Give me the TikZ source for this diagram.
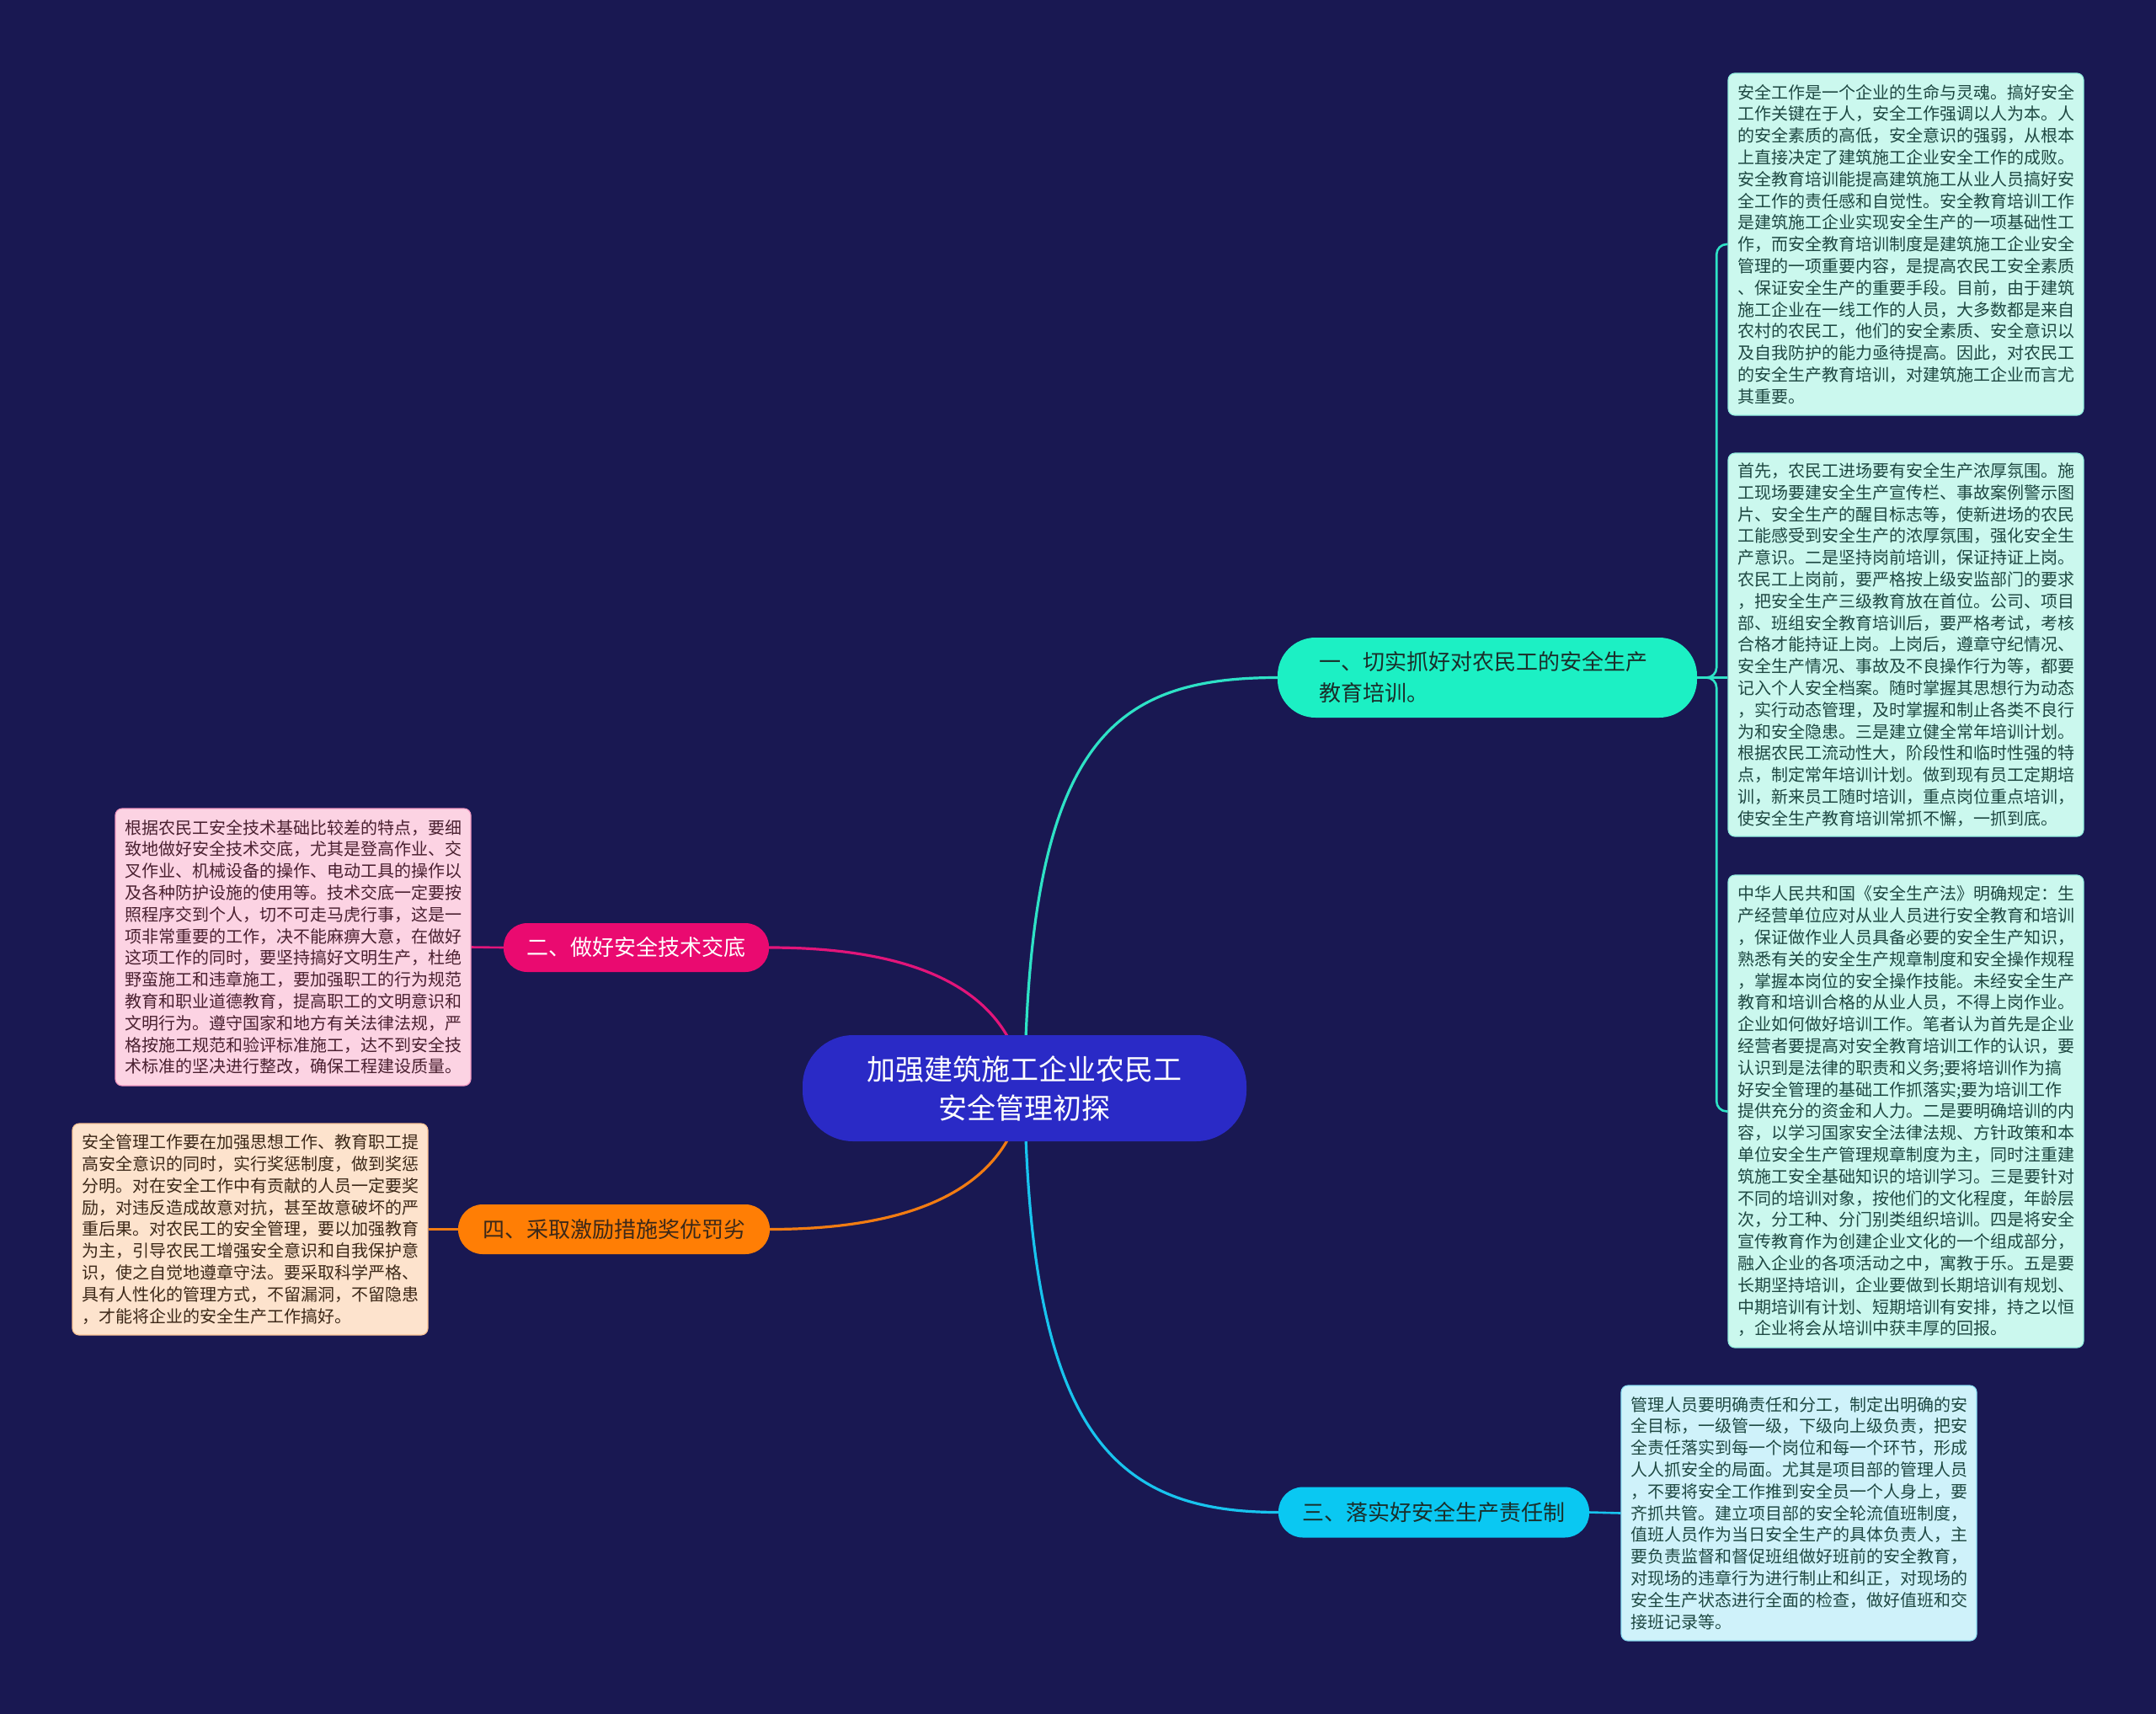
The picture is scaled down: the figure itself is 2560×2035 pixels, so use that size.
\documentclass[tikz,border=0pt]{standalone}
\usepackage{fontspec}
\setmainfont{Noto Sans CJK SC}
\usetikzlibrary{calc}
\setlength\parindent{0pt}
\definecolor{bgc}{HTML}{191852}
\definecolor{rootc}{HTML}{2A2AC6}
\definecolor{aquac}{HTML}{1CF0C4}
\definecolor{aquae}{HTML}{2EE2C6}
\definecolor{magc}{HTML}{EA0A70}
\definecolor{mage}{HTML}{E2157A}
\definecolor{orgc}{HTML}{FF7E05}
\definecolor{orge}{HTML}{F27C12}
\definecolor{cyac}{HTML}{0AC8F2}
\definecolor{cyae}{HTML}{18C4EE}
\definecolor{mintf}{HTML}{CBF8EE}
\definecolor{skyf}{HTML}{CFF2FA}
\definecolor{pinkf}{HTML}{FCD3E3}
\definecolor{peachf}{HTML}{FDE3CD}
\definecolor{tealt}{HTML}{1E4842}
\definecolor{pinkt}{HTML}{4A2030}
\definecolor{peacht}{HTML}{3C2818}
\definecolor{darkt}{HTML}{1A2E2A}
\pgfdeclarelayer{bgl}
\pgfdeclarelayer{edgel}
\pgfsetlayers{bgl,edgel,main}
\begin{document}
\begin{tikzpicture}[x=1pt,y=-1pt,
  leafbox/.style={rectangle, rounded corners=8, inner xsep=11, inner ysep=0,
    text width=400, align=left, minimum width=422,
    font=\fontsize{20}{25.8}\selectfont, line width=1.2},
  branchbox/.style={rectangle, inner sep=0, align=center,
    font=\fontsize{26}{37}\selectfont},
  edgeline/.style={line width=3.2, line cap=round},
  leafline/.style={line width=2.6, rounded corners=12}
]
\begin{pgfonlayer}{bgl}
\useasboundingbox (0,0) rectangle (2560,2035);
\fill[bgc] (0,0) rectangle (2560,2035);
\end{pgfonlayer}

% root
\node[rectangle, rounded corners=60, fill=rootc, minimum width=527, minimum height=126,
  inner sep=0, align=center, text=white, font=\fontsize{34}{46}\selectfont]
  (root) at (1216.5,1292) {加强建筑施工企业农民工\\安全管理初探};

% branches
\node[branchbox, rounded corners=45, fill=aquac, text=darkt, minimum width=498, minimum height=95,
  text width=400, align=left] (n1) at (1766,804.5)
  {一、切实抓好对农民工的安全生产\\教育培训。};
\node[branchbox, rounded corners=28, fill=magc, text=white, minimum width=315, minimum height=58]
  (n2) at (755.5,1125) {二、做好安全技术交底};
\node[branchbox, rounded corners=29, fill=cyac, text=darkt, minimum width=369, minimum height=60]
  (n3) at (1702.5,1795.5) {三、落实好安全生产责任制};
\node[branchbox, rounded corners=29, fill=orgc, text=peacht, minimum width=370, minimum height=59]
  (n4) at (729,1459.5) {四、采取激励措施奖优罚劣};

% leaves
\node[leafbox, fill=mintf, draw=aquae!35!mintf, text=tealt, minimum height=406] (b1) at (2263,290) {%
安全工作是一个企业的生命与灵魂。搞好安全\\
工作关键在于人，安全工作强调以人为本。人\\
的安全素质的高低，安全意识的强弱，从根本\\
上直接决定了建筑施工企业安全工作的成败。\\
安全教育培训能提高建筑施工从业人员搞好安\\
全工作的责任感和自觉性。安全教育培训工作\\
是建筑施工企业实现安全生产的一项基础性工\\
作，而安全教育培训制度是建筑施工企业安全\\
管理的一项重要内容，是提高农民工安全素质\\
、保证安全生产的重要手段。目前，由于建筑\\
施工企业在一线工作的人员，大多数都是来自\\
农村的农民工，他们的安全素质、安全意识以\\
及自我防护的能力亟待提高。因此，对农民工\\
的安全生产教育培训，对建筑施工企业而言尤\\
其重要。};

\node[leafbox, fill=mintf, draw=aquae!35!mintf, text=tealt, minimum height=455] (b2) at (2263,765.5) {%
首先，农民工进场要有安全生产浓厚氛围。施\\
工现场要建安全生产宣传栏、事故案例警示图\\
片、安全生产的醒目标志等，使新进场的农民\\
工能感受到安全生产的浓厚氛围，强化安全生\\
产意识。二是坚持岗前培训，保证持证上岗。\\
农民工上岗前，要严格按上级安监部门的要求\\
，把安全生产三级教育放在首位。公司、项目\\
部、班组安全教育培训后，要严格考试，考核\\
合格才能持证上岗。上岗后，遵章守纪情况、\\
安全生产情况、事故及不良操作行为等，都要\\
记入个人安全档案。随时掌握其思想行为动态\\
，实行动态管理，及时掌握和制止各类不良行\\
为和安全隐患。三是建立健全常年培训计划。\\
根据农民工流动性大，阶段性和临时性强的特\\
点，制定常年培训计划。做到现有员工定期培\\
训，新来员工随时培训，重点岗位重点培训，\\
使安全生产教育培训常抓不懈，一抓到底。};

\node[leafbox, fill=mintf, draw=aquae!35!mintf, text=tealt, minimum height=561] (b3) at (2263,1319.5) {%
中华人民共和国《安全生产法》明确规定：生\\
产经营单位应对从业人员进行安全教育和培训\\
，保证做作业人员具备必要的安全生产知识，\\
熟悉有关的安全生产规章制度和安全操作规程\\
，掌握本岗位的安全操作技能。未经安全生产\\
教育和培训合格的从业人员，不得上岗作业。\\
企业如何做好培训工作。笔者认为首先是企业\\
经营者要提高对安全教育培训工作的认识，要\\
认识到是法律的职责和义务;要将培训作为搞\\
好安全管理的基础工作抓落实;要为培训工作\\
提供充分的资金和人力。二是要明确培训的内\\
容，以学习国家安全法律法规、方针政策和本\\
单位安全生产管理规章制度为主，同时注重建\\
筑施工安全基础知识的培训学习。三是要针对\\
不同的培训对象，按他们的文化程度，年龄层\\
次，分工种、分门别类组织培训。四是将安全\\
宣传教育作为创建企业文化的一个组成部分，\\
融入企业的各项活动之中，寓教于乐。五是要\\
长期坚持培训，企业要做到长期培训有规划、\\
中期培训有计划、短期培训有安排，持之以恒\\
，企业将会从培训中获丰厚的回报。};

\node[leafbox, fill=skyf, draw=cyae!35!skyf, text=tealt, minimum height=303] (b4) at (2136,1796.5) {%
管理人员要明确责任和分工，制定出明确的安\\
全目标，一级管一级，下级向上级负责，把安\\
全责任落实到每一个岗位和每一个环节，形成\\
人人抓安全的局面。尤其是项目部的管理人员\\
，不要将安全工作推到安全员一个人身上，要\\
齐抓共管。建立项目部的安全轮流值班制度，\\
值班人员作为当日安全生产的具体负责人，主\\
要负责监督和督促班组做好班前的安全教育，\\
对现场的违章行为进行制止和纠正，对现场的\\
安全生产状态进行全面的检查，做好值班和交\\
接班记录等。};

\node[leafbox, fill=pinkf, draw=mage!30!pinkf, text=pinkt, minimum height=329] (b5) at (348,1124.5) {%
根据农民工安全技术基础比较差的特点，要细\\
致地做好安全技术交底，尤其是登高作业、交\\
叉作业、机械设备的操作、电动工具的操作以\\
及各种防护设施的使用等。技术交底一定要按\\
照程序交到个人，切不可走马虎行事，这是一\\
项非常重要的工作，决不能麻痹大意，在做好\\
这项工作的同时，要坚持搞好文明生产，杜绝\\
野蛮施工和违章施工，要加强职工的行为规范\\
教育和职业道德教育，提高职工的文明意识和\\
文明行为。遵守国家和地方有关法律法规，严\\
格按施工规范和验评标准施工，达不到安全技\\
术标准的坚决进行整改，确保工程建设质量。};

\node[leafbox, fill=peachf, draw=orge!30!peachf, text=peacht, minimum height=251] (b6) at (297,1459.5) {%
安全管理工作要在加强思想工作、教育职工提\\
高安全意识的同时，实行奖惩制度，做到奖惩\\
分明。对在安全工作中有贡献的人员一定要奖\\
励，对违反造成故意对抗，甚至故意破坏的严\\
重后果。对农民工的安全管理，要以加强教育\\
为主，引导农民工增强安全意识和自我保护意\\
识，使之自觉地遵章守法。要采取科学严格、\\
具有人性化的管理方式，不留漏洞，不留隐患\\
，才能将企业的安全生产工作搞好。};

\begin{pgfonlayer}{edgel}
\draw[edgeline, aquae] (root.center) .. controls (1222,880) and (1320,804.5) .. (n1.west);
\draw[edgeline, mage] (root.center) .. controls (1200,1170) and (1080,1125) .. (n2.east);
\draw[edgeline, cyae] (root.center) .. controls (1222,1700) and (1320,1795.5) .. (n3.west);
\draw[edgeline, orge] (root.center) .. controls (1200,1414) and (1080,1459.5) .. (n4.east);
\draw[leafline, aquae] (n1.east) -- ++(23,0) |- (b1.west);
\draw[leafline, aquae] (n1.east) -- (n1.east -| b2.west);
\draw[leafline, aquae] (n1.east) -- ++(23,0) |- (b3.west);
\draw[leafline, cyae] (n3.east) -- (b4.west);
\draw[leafline, mage] (n2.west) -- (b5.east);
\draw[leafline, orge] (n4.west) -- (b6.east);
\end{pgfonlayer}
\end{tikzpicture}
\end{document}
